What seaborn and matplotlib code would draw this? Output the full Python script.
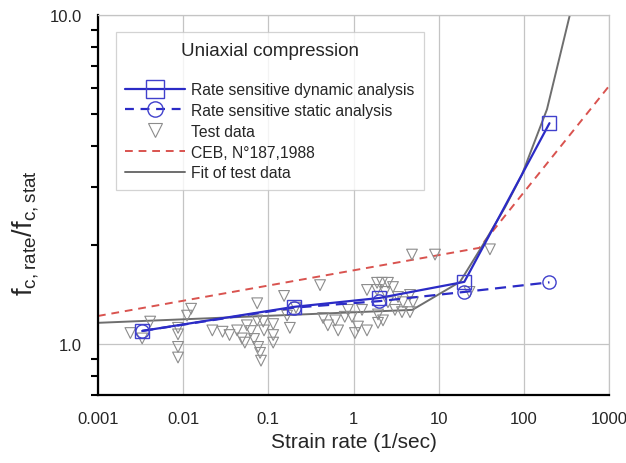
import matplotlib
matplotlib.use("Agg")
import matplotlib.pyplot as plt
import seaborn as sns
import pandas as pd
from matplotlib.lines import Line2D
from matplotlib.ticker import FixedLocator, NullFormatter

# ---------------- data ----------------
dyn_rate = [0.0033, 0.2, 2, 20, 200]
dyn_ratio = [1.096, 1.297, 1.38, 1.545, 4.69]

stat_rate = [0.0033, 0.2, 2, 20, 200]
stat_ratio = [1.096, 1.29, 1.35, 1.44, 1.54]

ceb_rate = [0.001, 30, 1000]
ceb_ratio = [1.217, 1.96, 6.08]

fit_rate = [0.001, 4.9, 17.8, 26.7, 33, 60, 95, 187, 350]
fit_ratio = [1.16, 1.27, 1.545, 1.83, 2.0, 2.6, 3.27, 5.17, 10.1]

test_rate = [0.0024, 0.0033, 0.0041, 0.0087, 0.0087, 0.0087, 0.0087, 0.0111, 0.0124,
             0.022, 0.029, 0.035, 0.043, 0.049, 0.056, 0.053, 0.0625, 0.068, 0.074,
             0.074, 0.076, 0.080, 0.082, 0.087, 0.089, 0.114, 0.114, 0.114, 0.153,
             0.179, 0.166, 0.405, 0.211, 0.44, 0.61, 0.50, 0.66, 0.79, 0.96, 0.86,
             1.13, 1.26, 1.44, 1.04, 1.44, 1.89, 2.16, 1.89, 1.94, 1.94, 2.22, 2.54,
             4.86, 9.06, 2.91, 2.34, 2.54, 3.33, 4.61, 3.81, 5.0, 3.07, 3.71, 4.61,
             40, 23]
test_ratio = [1.08, 1.04, 1.17, 1.12, 1.07, 0.98, 0.91, 1.22, 1.28, 1.10, 1.09, 1.065,
              1.10, 1.04, 1.14, 1.01, 1.095, 1.036, 1.33, 1.18, 0.98, 0.94, 0.89, 1.17,
              1.10, 1.15, 1.065, 1.01, 1.40, 1.12, 1.22, 1.51, 1.29, 1.20, 1.18, 1.14,
              1.10, 1.21, 1.21, 1.27, 1.13, 1.27, 1.10, 1.08, 1.46, 1.535, 1.535, 1.46,
              1.23, 1.16, 1.18, 1.535, 1.87, 1.87, 1.49, 1.44, 1.34, 1.39, 1.41, 1.34,
              1.34, 1.27, 1.25, 1.25, 1.94, 1.44]

x_ticks = [0.001, 0.01, 0.1, 1, 10, 100, 1000]
x_ticklabels = ["0.001", "0.01", "0.1", "1", "10", "100", "1000"]
y_ticks = [1.0, 10.0]
y_ticklabels = ["1.0", "10.0"]

labels = ["Rate sensitive dynamic analysis", "Rate sensitive static analysis",
          "Test data", "CEB, N\u00b0187,1988", "Fit of test data"]

# ---------------- style ----------------
sns.set_style("white")
plt.rcParams["font.family"] = ["Liberation Sans", "DejaVu Sans"]
plt.rcParams["mathtext.fontset"] = "custom"
plt.rcParams["mathtext.rm"] = "Liberation Sans"

BLUE = "#2b2bc6"
RED = "#d9534f"
GREY = "#6e6e6e"
TRI = "#8c8c8c"

fig = plt.figure(figsize=(6.26, 4.64), dpi=100)
ax = fig.add_axes([98 / 626, 1 - 396 / 464, 511 / 626, 380 / 464])
ax.set_xscale("log")
ax.set_yscale("log")

df_dyn = pd.DataFrame({"rate": dyn_rate, "ratio": dyn_ratio})
df_stat = pd.DataFrame({"rate": stat_rate, "ratio": stat_ratio})
df_ceb = pd.DataFrame({"rate": ceb_rate, "ratio": ceb_ratio})
df_fit = pd.DataFrame({"rate": fit_rate, "ratio": fit_ratio})
df_test = pd.DataFrame({"rate": test_rate, "ratio": test_ratio})

sns.lineplot(data=df_ceb, x="rate", y="ratio", ax=ax, color=RED, lw=1.4,
             linestyle=(0, (4, 3)), estimator=None, sort=False, zorder=2)
sns.lineplot(data=df_fit, x="rate", y="ratio", ax=ax, color=GREY, lw=1.4,
             estimator=None, sort=False, zorder=2)
sns.scatterplot(data=df_test, x="rate", y="ratio", ax=ax, marker="v", s=60,
                facecolor="none", edgecolor=TRI, linewidth=0.8, zorder=3)
sns.lineplot(data=df_stat, x="rate", y="ratio", ax=ax, color=BLUE, lw=1.6,
             linestyle=(0, (5, 3)), marker="o", markersize=9.5,
             markerfacecolor="none", markeredgecolor="#4040cc", markeredgewidth=1.0,
             estimator=None, sort=False, zorder=4)
sns.lineplot(data=df_dyn, x="rate", y="ratio", ax=ax, color=BLUE, lw=1.6,
             marker="s", markersize=10, markerfacecolor="none",
             markeredgecolor="#4040cc", markeredgewidth=1.0,
             estimator=None, sort=False, zorder=5)

ax.set_xlim(0.001, 1000)
ax.set_ylim(0.7, 10)

ax.xaxis.set_major_locator(FixedLocator(x_ticks))
ax.xaxis.set_minor_locator(FixedLocator([]))
ax.set_xticklabels(x_ticklabels)
ax.yaxis.set_major_locator(FixedLocator(y_ticks))
ax.yaxis.set_minor_locator(FixedLocator([0.7, 0.8, 0.9, 2, 3, 4, 5, 6, 7, 8, 9]))
ax.set_yticklabels(y_ticklabels)
ax.yaxis.set_minor_formatter(NullFormatter())

ax.tick_params(axis="both", which="major", direction="out", labelsize=12,
               color="black", width=1.5)
ax.tick_params(axis="x", which="major", length=8.5, pad=3)
ax.tick_params(axis="y", which="major", length=9.5, pad=2)
ax.tick_params(axis="y", which="minor", direction="out", length=5, width=1.5,
               color="black", left=True)

ax.grid(True, which="major", color="#c4c4c4", lw=0.9)
ax.set_axisbelow(True)
for s in ["left", "bottom"]:
    ax.spines[s].set_color("black")
    ax.spines[s].set_linewidth(1.6)
for s in ["top", "right"]:
    ax.spines[s].set_color("#c4c4c4")
    ax.spines[s].set_linewidth(0.9)

ax.set_xlabel("Strain rate (1/sec)", fontsize=15, labelpad=4)
ax.set_ylabel(r"$\mathregular{f_{c,rate}/f_{c,stat}}$", fontsize=19.5)
ax.yaxis.set_label_coords(-0.112, 0.43)

handles = [
    Line2D([], [], color=BLUE, lw=1.6, marker="s", markersize=13,
           markerfacecolor="none", markeredgecolor="#4040cc", markeredgewidth=1.0),
    Line2D([], [], color=BLUE, lw=1.6, linestyle=(0, (4, 3)), marker="o",
           markersize=11, markerfacecolor="none", markeredgecolor="#4040cc",
           markeredgewidth=1.0),
    Line2D([], [], lw=0, marker="v", markersize=10, markerfacecolor="none",
           markeredgecolor=TRI, markeredgewidth=0.8),
    Line2D([], [], color=RED, lw=1.4, linestyle=(0, (4, 3))),
    Line2D([], [], color=GREY, lw=1.4),
]
leg = ax.legend(handles, labels, title="Uniaxial compression", loc="upper left",
                bbox_to_anchor=(0.035, 0.955), fontsize=11.3, title_fontsize=13.5,
                frameon=True, fancybox=False, edgecolor="#c8c8c8",
                handlelength=3.8, handletextpad=0.4, labelspacing=0.37,
                borderpad=0.6, borderaxespad=0)
leg.get_frame().set_linewidth(0.9)
leg._legend_box.sep = 17
leg.set_zorder(10)

fig.savefig("out.png", dpi=100)
